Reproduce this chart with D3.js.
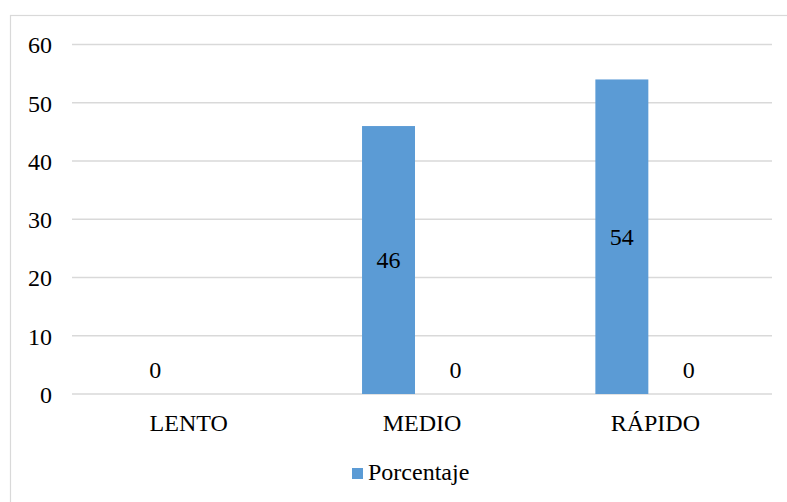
<!DOCTYPE html>
<html>
<head>
<meta charset="utf-8">
<script src="https://cdn.jsdelivr.net/npm/d3@7"></script>
<style>
	html, body { margin: 0; padding: 0; background: #fff; }
	svg { display: block; }
</style>
</head>
<body>
<div id="graph"></div>
<script>
let categories= ['LENTO', 'MEDIO', 'RÁPIDO'];
let porcentaje= [0, 46, 54];
// second series has no legend entry, only zero labels
let serie2= [null, 0, 0];
let yTicks= [0, 10, 20, 30, 40, 50, 60];
let seriesNames= ['Porcentaje', ''];

let width= 787, height= 502;
let plotLeft= 72, plotRight= 772, plotTop= 44.5, plotBottom= 394;
let serif= 'Liberation Serif';

let svg= d3.select('div#graph').append('svg')
			.attr('width', width)
			.attr('height', height)
			.attr('font-family', serif);

// chart area border
svg.append('rect')
	.attr('x', 10.5)
	.attr('y', 15.5)
	.attr('width', 820)
	.attr('height', 520)
	.attr('fill', '#fff')
	.attr('stroke', '#d9d9d9')
	.attr('stroke-width', 1.2);

let y= d3.scaleLinear().domain([0, 60]).range([plotBottom, plotTop]);
let x0= d3.scaleBand().domain(categories).range([plotLeft, plotRight])
			.paddingInner(0.486).paddingOuter(0.243);
let x1= d3.scaleBand().domain([0, 1]).range([0, x0.bandwidth()])
			.paddingInner(0.209);

// gridlines
svg.append('g')
	.selectAll('line')
	.data(yTicks)
	.enter()
	.append('line')
	.attr('x1', plotLeft)
	.attr('x2', plotRight)
	.attr('y1', function(d){ return y(d); })
	.attr('y2', function(d){ return y(d); })
	.attr('stroke', '#d9d9d9')
	.attr('stroke-width', 1.3);

// y axis labels
let yAxis= d3.axisLeft(y).tickValues(yTicks).tickSize(0).tickPadding(0);
let yG= svg.append('g')
			.attr('transform', 'translate(52,0)')
			.call(yAxis)
			.attr('font-family', serif)
			.attr('font-size', 24);
yG.select('.domain').remove();
yG.selectAll('text')
	.attr('font-family', serif)
	.attr('fill', '#000')
	.attr('dy', '0.35em');

// x axis labels
let xAxis= d3.axisBottom(x0).tickSize(0).tickPadding(0);
let xG= svg.append('g')
			.attr('transform', 'translate(0,' + plotBottom + ')')
			.call(xAxis)
			.attr('font-family', serif)
			.attr('font-size', 24);
xG.select('.domain').remove();
xG.selectAll('text')
	.attr('font-family', serif)
	.attr('fill', '#000')
	.attr('dy', null)
	.attr('y', 37);

let rows= [];
categories.forEach(function(c, i){
	rows.push({cat: c, s: 0, v: porcentaje[i]});
	rows.push({cat: c, s: 1, v: serie2[i]});
});
rows= rows.filter(function(d){ return d.v !== null; });

svg.append('g')
	.selectAll('rect')
	.data(rows.filter(function(d){ return d.s === 0; }))
	.enter()
	.append('rect')
	.attr('x', function(d){ return x0(d.cat) + x1(d.s); })
	.attr('y', function(d){ return y(d.v); })
	.attr('width', x1.bandwidth())
	.attr('height', function(d){ return y(0) - y(d.v); })
	.attr('fill', '#5b9bd5');

// data labels
svg.append('g')
	.selectAll('text')
	.data(rows)
	.enter()
	.append('text')
	.attr('x', function(d){ return x0(d.cat) + x1(d.s) + x1.bandwidth()/2; })
	.attr('y', function(d){
		if(d.v === 0) return y(0) - 16;
		return (y(d.v) + y(0))/2;
	})
	.attr('dy', function(d){ return d.v === 0 ? 0 : '0.35em'; })
	.attr('text-anchor', 'middle')
	.attr('font-family', serif)
	.attr('font-size', 24)
	.attr('fill', '#000')
	.text(function(d){ return d.v; });

// legend
let legG= svg.append('g')
			.attr('transform', 'translate(352,468)');
legG.append('rect')
	.attr('width', 11)
	.attr('height', 11)
	.attr('fill', '#5b9bd5');
legG.append('text')
	.attr('x', 16)
	.attr('y', 12)
	.attr('font-family', serif)
	.attr('font-size', 24)
	.attr('fill', '#000')
	.text(seriesNames[0]);
</script>
</body>
</html>
